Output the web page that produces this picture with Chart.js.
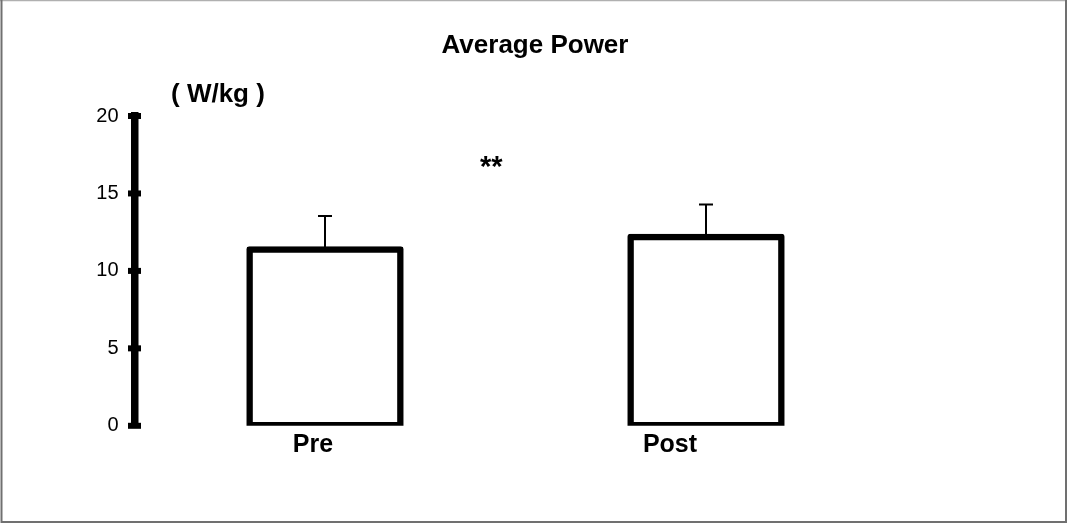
<!DOCTYPE html>
<html>
<head>
<meta charset="utf-8">
<script src="https://cdn.jsdelivr.net/npm/chart.js@4/dist/chart.umd.min.js"></script>
<style>
  html, body { margin: 0; padding: 0; background: #fff; }
  #wrap { position: relative; width: 1067px; height: 524px; }
</style>
</head>
<body>
<div id="wrap"><canvas id="myChart" width="1067" height="524"></canvas></div>
<script>
// chart values
const categories = ["Pre", "Post"];
const meanPower = [11.38, 12.19];
const errPower = [2.17, 2.1];
const yTicks = [0, 5, 10, 15, 20];
const titleText = "Average Power";
const unitText = "( W/kg )";
const signifText = "**";

const FONT = "'Liberation Sans', Arial, Helvetica, sans-serif";

// frame round the whole picture
const framePlugin = {
  id: 'frame',
  beforeDraw(chart) {
    const ctx = chart.ctx;
    ctx.save();
    ctx.fillStyle = '#fff';
    ctx.fillRect(0, 0, chart.width, chart.height);
    ctx.strokeStyle = '#b0b0b0';
    ctx.lineWidth = 1.5;
    ctx.beginPath(); ctx.moveTo(0, 0.5); ctx.lineTo(chart.width, 0.5); ctx.stroke();
    ctx.strokeStyle = '#707070';
    ctx.lineWidth = 2;
    ctx.beginPath();
    ctx.moveTo(1.5, 0); ctx.lineTo(1.5, 522);
    ctx.lineTo(1066, 522); ctx.lineTo(1066, 0);
    ctx.stroke();
    ctx.restore();
  }
};

// error bars on top of each bar
const errorBarPlugin = {
  id: 'errorBars',
  afterDatasetsDraw(chart) {
    const ctx = chart.ctx;
    const x = chart.scales.x, y = chart.scales.y;
    ctx.save();
    ctx.strokeStyle = '#000';
    ctx.lineWidth = 2;
    meanPower.forEach((v, i) => {
      const px = x.getPixelForValue(i);
      const top = y.getPixelForValue(v + errPower[i]);
      const base = y.getPixelForValue(v);
      ctx.beginPath();
      ctx.moveTo(px, base); ctx.lineTo(px, top);
      ctx.moveTo(px - 7, top); ctx.lineTo(px + 7, top);
      ctx.stroke();
    });
    ctx.restore();
  }
};

// texts and axis tick nubs
const textPlugin = {
  id: 'texts',
  afterDraw(chart) {
    const ctx = chart.ctx;
    const x = chart.scales.x, y = chart.scales.y;
    const ax = chart.chartArea.left;
    ctx.save();
    ctx.fillStyle = '#000';
    yTicks.forEach(t => {
      const py = y.getPixelForValue(t);
      ctx.fillRect(ax - 6.5, py - 3, 13, 6);
    });
    ctx.textBaseline = 'alphabetic';
    ctx.font = 'bold 26px ' + FONT;
    ctx.textAlign = 'center';
    ctx.fillText(titleText, 535, 53);
    ctx.textAlign = 'left';
    ctx.fillText(unitText, 171, 102);
    ctx.font = 'bold 29px ' + FONT;
    ctx.fillText(signifText, 480, 176);
    ctx.font = 'bold 25px ' + FONT;
    ctx.textAlign = 'center';
    const shift = [-12, -36];
    categories.forEach((c, i) => {
      ctx.fillText(c, x.getPixelForValue(i) + shift[i], 452);
    });
    ctx.restore();
  }
};

new Chart(document.getElementById('myChart'), {
  type: 'bar',
  data: {
    labels: categories,
    datasets: [{
      data: meanPower,
      backgroundColor: '#fff',
      borderColor: '#000',
      borderWidth: 6.5,
      borderSkipped: false,
      borderRadius: 3,
      inflateAmount: 3.25,
      categoryPercentage: 1,
      barPercentage: 0.396
    }]
  },
  plugins: [framePlugin, errorBarPlugin, textPlugin],
  options: {
    responsive: false,
    animation: false,
    devicePixelRatio: 1,
    layout: { padding: { left: 0, right: 170.5, top: 116, bottom: 98.2 } },
    plugins: { legend: { display: false }, tooltip: { enabled: false }, title: { display: false } },
    scales: {
      x: { display: false },
      y: {
        min: 0, max: 20,
        afterFit(scale) { scale.width = 134.5; },
        afterBuildTicks(scale) { scale.ticks = yTicks.map(v => ({ value: v })); },
        border: { display: true, color: '#000', width: 7.5 },
        grid: { display: true, drawOnChartArea: false, drawTicks: false, color: 'rgba(0,0,0,0)' },
        ticks: { color: '#000', padding: 16, font: { family: FONT, size: 20 } }
      }
    }
  }
});
</script>
</body>
</html>
